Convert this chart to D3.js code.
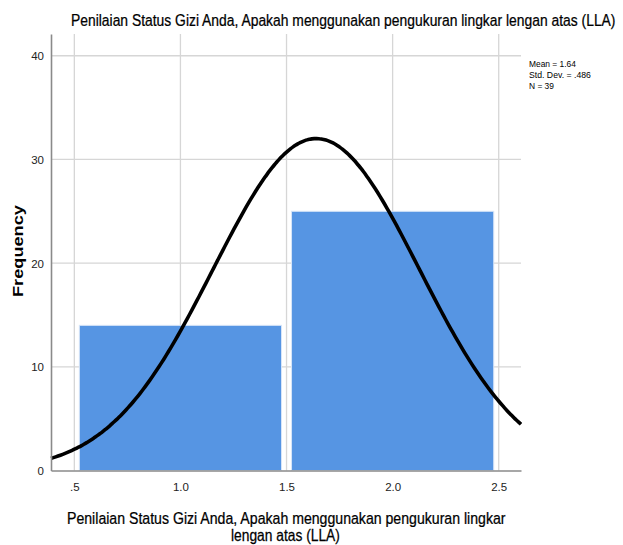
<!DOCTYPE html>
<html>
<head>
<meta charset="utf-8">
<script src="https://cdn.jsdelivr.net/npm/d3@7"></script>
<style>
  html, body { margin: 0; padding: 0; background: #fff; }
  svg { display: block; font-family: "Liberation Sans", Arial, sans-serif; }
</style>
</head>
<body>
<svg id="chart" width="623" height="545"></svg>
<script>
// Histogram bins (lower edge, upper edge) and counts
const binStart = [0.5, 1.5];
const binEnd = [1.5, 2.5];
const counts = [14, 25];
const xTicks = [0.5, 1.0, 1.5, 2.0, 2.5];
const xTickLabels = [".5", "1.0", "1.5", "2.0", "2.5"];
const yTicks = [0, 10, 20, 30, 40];
const statsLines = ["Mean = 1.64", "Std. Dev. = .486", "N = 39"];
const statsWidths = [47, 62, 25];
const mean = 1.64;
const sd = 0.486;
const n = 39;

const svg = d3.select("#chart");
const plot = { left: 51, right: 521, top: 34, bottom: 470.5 };

const x = d3.scaleLinear().domain([0.39, 2.605]).range([plot.left, plot.right]);
const y = d3.scaleLinear().domain([0, 42.1]).range([plot.bottom, plot.top]);

// Condensed text: draw at natural size, then squeeze horizontally to the target width
function condensedText(parent, str, px, py, width, size, opts = {}) {
  const g = parent.append("g");
  const t = g.append("text")
    .style("font-size", size + "px")
    .attr("fill", "#000")
    .text(str);
  if (opts.bold) t.style("font-weight", "bold");
  if (opts.stroke) t.attr("stroke", "#000").attr("stroke-width", opts.stroke);
  const natural = t.node().getComputedTextLength();
  const sx = width / natural;
  g.attr("transform", `translate(${px},${py})${opts.rotate ? " rotate(-90)" : ""} scale(${sx},1)`);
  return g;
}

// Grid lines
const grid = svg.append("g");
grid.selectAll("line.v").data(xTicks).join("line")
  .attr("x1", d => x(d)).attr("x2", d => x(d))
  .attr("y1", plot.top).attr("y2", plot.bottom)
  .attr("stroke", "#d6d6d6").attr("stroke-width", 1.3);
grid.selectAll("line.h").data(yTicks.filter(d => d > 0)).join("line")
  .attr("x1", plot.left).attr("x2", plot.right)
  .attr("y1", d => y(d)).attr("y2", d => y(d))
  .attr("stroke", "#d6d6d6").attr("stroke-width", 1.3);

// Bars, inset from bin edges
const inset = 5;
svg.append("g").selectAll("rect").data(counts).join("rect")
  .attr("x", (d, i) => x(binStart[i]) + inset)
  .attr("width", (d, i) => x(binEnd[i]) - x(binStart[i]) - 2 * inset)
  .attr("y", d => y(d))
  .attr("height", d => y(0) - y(d))
  .attr("fill", "#5695e3")
  .attr("stroke", "#d7e5f8")
  .attr("stroke-width", 1);

// Normal curve scaled to counts (bin width 1)
const pdf = v => n * 1 * Math.exp(-0.5 * ((v - mean) / sd) ** 2) / (sd * Math.sqrt(2 * Math.PI));
const xs = d3.range(0, 201).map(i => x.domain()[0] + (x.domain()[1] - x.domain()[0]) * i / 200);
svg.append("path")
  .datum(xs)
  .attr("d", d3.line().x(d => x(d)).y(d => y(pdf(d))).curve(d3.curveBasis))
  .attr("fill", "none")
  .attr("stroke", "#000")
  .attr("stroke-width", 3.6);

// Axes
const xAxis = svg.append("g").attr("transform", `translate(0,${plot.bottom})`)
  .call(d3.axisBottom(x).tickValues(xTicks).tickFormat((d, i) => xTickLabels[i]).tickSize(0).tickPadding(12));
const yAxis = svg.append("g").attr("transform", `translate(${plot.left},0)`)
  .call(d3.axisLeft(y).tickValues(yTicks).tickFormat(d3.format("d")).tickSize(0).tickPadding(7));
[xAxis, yAxis].forEach(a => {
  a.select(".domain").attr("stroke", "#8a8a8a").attr("stroke-width", 1.6);
  a.selectAll("text").attr("fill", "#222").style("font-size", "11.5px")
    .style("font-family", "'Liberation Sans Narrow', 'Liberation Sans', Arial, sans-serif");
});
yAxis.selectAll("text").attr("dy", "0.35em");

// Title
condensedText(svg, "Penilaian Status Gizi Anda, Apakah menggunakan pengukuran lingkar lengan atas (LLA)",
  71, 26, 545, 16.5, { stroke: 0.25 });

// X axis title
condensedText(svg, "Penilaian Status Gizi Anda, Apakah menggunakan pengukuran lingkar",
  67, 524, 439, 16.5, { stroke: 0.25 });
condensedText(svg, "lengan atas (LLA)", 231, 541, 109, 16.5, { stroke: 0.25 });

// Y axis title
condensedText(svg, "Frequency", 23, 297, 92, 14, { bold: true, rotate: true });

// Summary statistics
statsLines.forEach((s, i) => condensedText(svg, s, 529, 67 + i * 11, statsWidths[i], 9.5));
</script>
</body>
</html>
